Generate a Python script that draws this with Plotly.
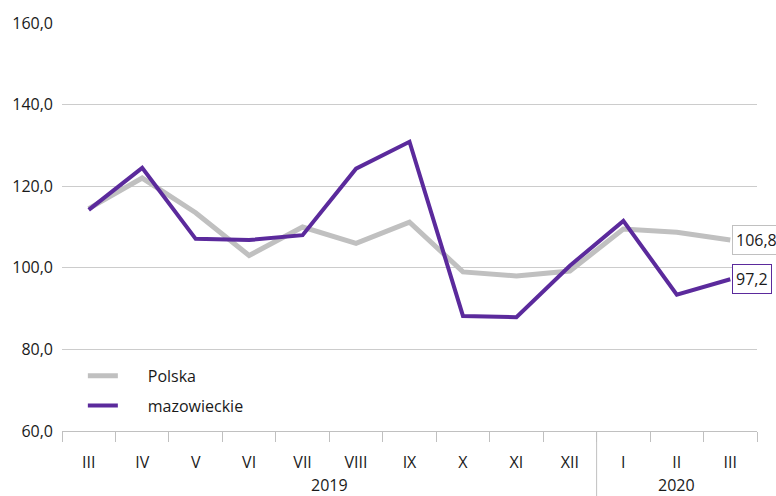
import plotly.graph_objects as go

months = ["III", "IV", "V", "VI", "VII", "VIII", "IX", "X", "XI", "XII", "I", "II", "III"]
years = ["2019", "2020"]
polska = [114.5, 122.0, 113.5, 103.0, 110.0, 106.0, 111.2, 99.0, 98.0, 99.2, 109.5, 108.7, 106.8]
mazowieckie = [114.2, 124.5, 107.1, 106.8, 108.0, 124.3, 130.9, 88.2, 87.9, 100.5, 111.5, 93.4, 97.2]

GRAY = "#c0c0c0"
PURPLE = "#5b2a9c"
TEXT = "#1a1a1a"
NB = "\u00a0"

x = list(range(len(months)))

fig = go.Figure()
fig.add_trace(go.Scatter(x=x, y=polska, mode="lines", name=NB * 6 + "Polska",
                         legendgroup="a", line=dict(color=GRAY, width=5)))
fig.add_trace(go.Scatter(x=x, y=mazowieckie, mode="lines", name=NB * 6 + "mazowieckie",
                         legendgroup="b", line=dict(color=PURPLE, width=4)))

# end-of-line value boxes
for vals, col in [(polska, GRAY), (mazowieckie, PURPLE)]:
    fig.add_annotation(x=x[-1], y=vals[-1], text=f"{vals[-1]:.1f}".replace(".", ","),
                       xanchor="left", xshift=2, showarrow=False,
                       font=dict(size=16, color=TEXT),
                       bgcolor="white", bordercolor=col, borderwidth=1, borderpad=3)

# year labels under month groups
fig.add_annotation(x=4.5, y=-0.163, xref="x", yref="paper", text=years[0],
                   showarrow=False, font=dict(size=16, color=TEXT))
fig.add_annotation(x=11, y=-0.163, xref="x", yref="paper", text=years[1],
                   showarrow=False, font=dict(size=16, color=TEXT))

# separator between years
fig.add_shape(type="line", x0=9.5, x1=9.5, y0=0, y1=-0.17, xref="x", yref="paper",
              line=dict(color=GRAY, width=1))

fig.update_layout(
    width=776, height=496,
    margin=dict(l=62, r=19, t=23, b=65),
    plot_bgcolor="white", paper_bgcolor="white",
    separators=", ",
    font=dict(family="Open Sans", size=16, color=TEXT),
    showlegend=True,
    legend=dict(x=0.03, y=0.177, xanchor="left", yanchor="top",
                bgcolor="rgba(0,0,0,0)", font=dict(size=16, color=TEXT),
                tracegroupgap=6),
    xaxis=dict(range=[-0.5, 12.5], tickmode="array", tickvals=x, ticktext=months,
               ticks="outside", ticklen=17, tickcolor="rgba(0,0,0,0)",
               showgrid=False, zeroline=False,
               showline=True, linecolor=GRAY, linewidth=1,
               minor=dict(tickmode="linear", tick0=-0.5, dtick=1, ticks="outside",
                          ticklen=10, tickcolor=GRAY, showgrid=False),
               fixedrange=True),
    yaxis=dict(range=[60, 160], dtick=20, tickformat=".1f",
               showgrid=True, gridcolor="#cccccc", gridwidth=1,
               zeroline=False, showline=False, ticks="", ticklabelstandoff=8,
               fixedrange=True),
)

fig.write_html("out.html", config={"displayModeBar": False},
               post_script="document.body.style.margin='0';")
